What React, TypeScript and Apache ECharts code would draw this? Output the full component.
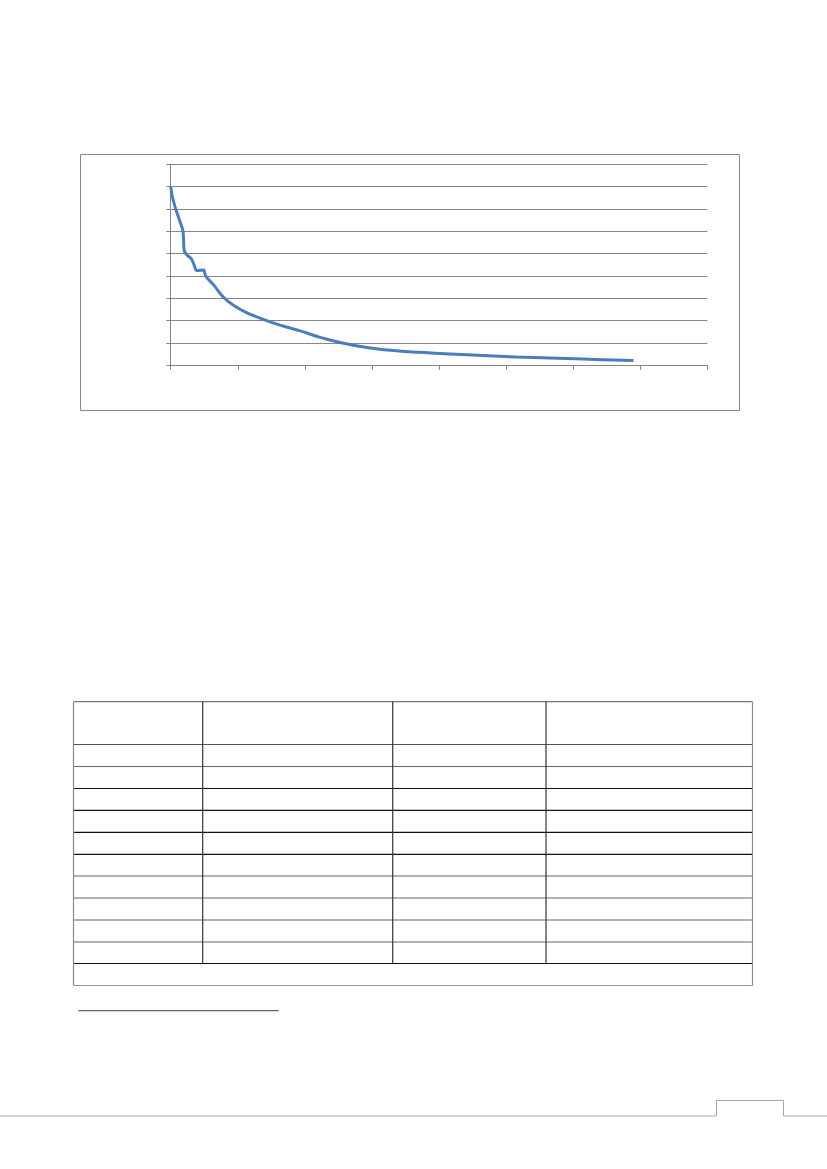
import { useEffect, useRef } from 'react';
import * as echarts from 'echarts';

// curve points (x in axis units 0..8, y in axis units 0..9)
const curveX = [
  0, 0.03, 0.08, 0.14, 0.18, 0.19, 0.2, 0.23, 0.31, 0.35, 0.39, 0.49, 0.52, 0.64, 0.78, 0.93,
  1.13, 1.38, 1.63, 1.93, 2.23, 2.42, 2.72, 3.12, 3.45, 3.72, 4.16, 5.16, 6.15, 6.9,
];
const curveY = [
  8.0, 7.48, 6.95, 6.43, 6.06, 5.76, 5.16, 4.98, 4.75, 4.49, 4.24, 4.27, 4.0, 3.6, 3.07, 2.7,
  2.36, 2.06, 1.8, 1.54, 1.25, 1.1, 0.9, 0.72, 0.63, 0.58, 0.51, 0.37, 0.28, 0.21,
];

// page layout of the table under the chart
const tableCols = [73.5, 202.7, 392.7, 546, 752.5];
const tableRows = [701.7, 744.5, 766.5, 788.5, 810.3, 832.3, 854.3, 876, 898, 920, 942, 963.5, 985.5];
const rowColors = ['#777', '#555', '#666', '#111', '#111', '#111', '#111', '#666', '#666', '#666', '#666', '#111', '#999'];

export default function App() {
  const chartRef = useRef<HTMLDivElement>(null);

  useEffect(() => {
    if (!chartRef.current) return;
    const chart = echarts.init(chartRef.current, undefined, { renderer: 'svg' });

    const line = (x1: number, y1: number, x2: number, y2: number, stroke: string, lineWidth = 1.2) => ({
      type: 'line',
      silent: true,
      shape: { x1, y1, x2, y2 },
      style: { stroke, lineWidth },
    });

    const tableEls: any[] = [];
    const last = tableRows.length - 1;
    tableRows.forEach((y, i) => {
      tableEls.push(line(tableCols[0], y, tableCols[tableCols.length - 1], y, rowColors[i]));
    });
    tableCols.forEach((x, i) => {
      const outer = i === 0 || i === tableCols.length - 1;
      tableEls.push(
        line(x, tableRows[0], x, outer ? tableRows[last] : tableRows[last - 1], outer ? '#8a8a8a' : '#333'),
      );
    });

    chart.setOption({
      animation: false,
      grid: { left: 170.7, top: 164.3, width: 536.6, height: 201, containLabel: false },
      xAxis: {
        type: 'value',
        min: 0,
        max: 8,
        interval: 1,
        axisLine: { show: true, lineStyle: { color: '#868686', width: 1 } },
        axisTick: { show: true, length: 4.5, lineStyle: { color: '#868686' } },
        axisLabel: { show: false },
        splitLine: { show: false },
      },
      yAxis: {
        type: 'value',
        min: 0,
        max: 9,
        interval: 1,
        axisLine: { show: true, lineStyle: { color: '#868686', width: 1 } },
        axisTick: { show: true, length: 4.5, lineStyle: { color: '#868686' } },
        axisLabel: { show: false },
        splitLine: { show: true, lineStyle: { color: '#868686', width: 1 } },
      },
      series: [
        {
          type: 'line',
          data: curveX.map((x, i) => [x, curveY[i]]),
          smooth: 0.35,
          showSymbol: false,
          lineStyle: { color: '#4a7ebb', width: 3 },
        },
      ],
      graphic: [
        {
          type: 'rect',
          silent: true,
          shape: { x: 80.5, y: 154.5, width: 659, height: 256 },
          style: { fill: 'none', stroke: '#878787', lineWidth: 1 },
        },
        ...tableEls,
        line(78.3, 1010.7, 278.7, 1010.7, '#666', 1.3),
        {
          type: 'polyline',
          silent: true,
          shape: {
            points: [
              [0, 1116],
              [716.5, 1116],
              [716.5, 1100.5],
              [783.5, 1100.5],
              [783.5, 1116],
              [827, 1116],
            ],
          },
          style: { fill: 'none', stroke: '#a6a6a6', lineWidth: 1 },
        },
      ],
    });

    return () => {
      chart.dispose();
    };
  }, []);

  return (
    <div
      ref={chartRef}
      style={{ position: 'absolute', left: 0, top: 0, width: 827, height: 1169, background: '#fff' }}
    />
  );
}
